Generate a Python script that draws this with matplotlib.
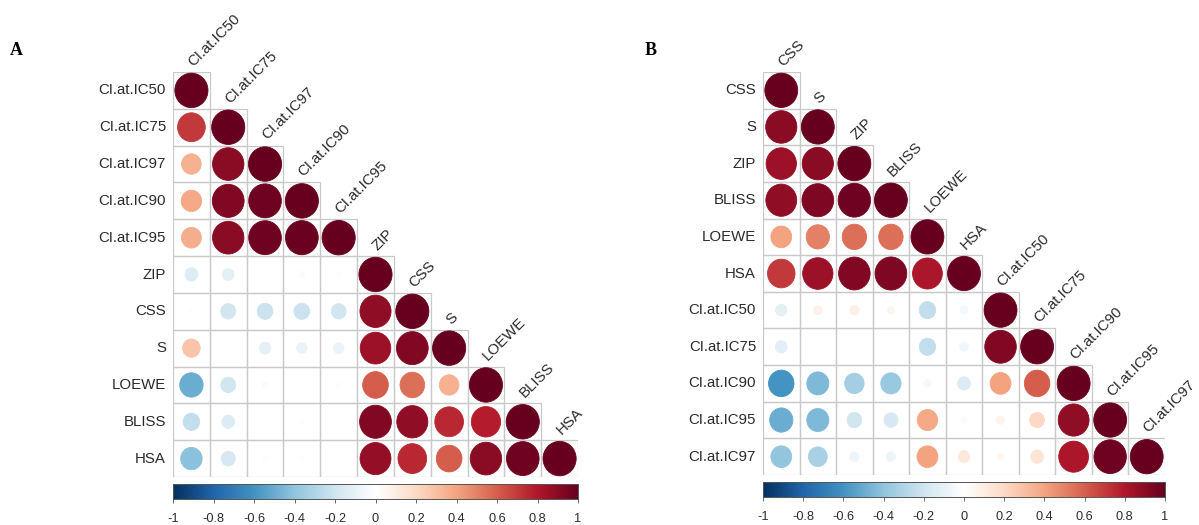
import numpy as np
import matplotlib
matplotlib.use("Agg")
import matplotlib.pyplot as plt
from matplotlib.colors import LinearSegmentedColormap, Normalize
from matplotlib.patches import Ellipse, Rectangle

# ---- data: lower-triangle correlation coefficients ----
labels_a = ["CI.at.IC50", "CI.at.IC75", "CI.at.IC97", "CI.at.IC90", "CI.at.IC95",
            "ZIP", "CSS", "S", "LOEWE", "BLISS", "HSA"]
corr_a = [
    [1.00],
    [0.70, 1.00],
    [0.35, 0.90, 1.00],
    [0.38, 0.92, 0.97, 1.00],
    [0.36, 0.90, 0.97, 0.98, 1.00],
    [-0.15, -0.12, 0.00, -0.03, -0.02, 1.00],
    [-0.02, -0.20, -0.22, -0.22, -0.20, 0.88, 1.00],
    [0.28, 0.00, -0.12, -0.10, -0.10, 0.85, 0.92, 1.00],
    [-0.50, -0.20, -0.03, 0.00, -0.02, 0.60, 0.55, 0.35, 1.00],
    [-0.25, -0.15, 0.00, -0.02, 0.00, 0.92, 0.88, 0.75, 0.78, 1.00],
    [-0.42, -0.18, -0.02, -0.02, 0.00, 0.87, 0.75, 0.60, 0.90, 0.97, 1.00],
]

labels_b = ["CSS", "S", "ZIP", "BLISS", "LOEWE", "HSA",
            "CI.at.IC50", "CI.at.IC75", "CI.at.IC90", "CI.at.IC95", "CI.at.IC97"]
corr_b = [
    [1.00],
    [0.90, 1.00],
    [0.85, 0.90, 1.00],
    [0.88, 0.93, 0.97, 1.00],
    [0.40, 0.50, 0.55, 0.55, 1.00],
    [0.70, 0.85, 0.92, 0.93, 0.82, 1.00],
    [-0.12, 0.07, 0.08, 0.05, -0.25, -0.06, 1.00],
    [-0.13, 0.00, 0.00, 0.00, -0.25, -0.07, 0.92, 1.00],
    [-0.60, -0.45, -0.35, -0.38, 0.05, -0.15, 0.40, 0.60, 1.00],
    [-0.50, -0.45, -0.20, -0.18, 0.38, 0.02, 0.06, 0.20, 0.88, 1.00],
    [-0.40, -0.33, -0.08, -0.08, 0.40, 0.12, 0.04, 0.15, 0.82, 0.97, 1.00],
]

colorbar_ticks = [-1, -0.8, -0.6, -0.4, -0.2, 0, 0.2, 0.4, 0.6, 0.8, 1]
colorbar_ticklabels = ["-1", "-0.8", "-0.6", "-0.4", "-0.2", "0", "0.2", "0.4", "0.6", "0.8", "1"]

# ---- styling ----
plt.rcParams["font.family"] = ["Liberation Sans", "DejaVu Sans"]
label_font = dict(fontsize=10.8)
tick_font = dict(fontsize=9.2)

rdbu = ["#053061", "#2166AC", "#4393C3", "#92C5DE", "#D1E5F0", "#FFFFFF",
        "#FDDBC7", "#F4A582", "#D6604D", "#B2182B", "#67001F"]
cmap = LinearSegmentedColormap.from_list("corr_rdbu", rdbu, N=200)
norm = Normalize(-1, 1)
grid_col = "#C9C9C9"
text_col = "#2b2b2b"

W, H = 1199, 525
fig = plt.figure(figsize=(W / 100, H / 100), dpi=100)


def px_axes(x0, y0, x1, y1):
    """Axes from pixel box (top-left origin)."""
    return fig.add_axes([x0 / W, 1 - y1 / H, (x1 - x0) / W, (y1 - y0) / H])


def corr_panel(box, cbar_box, labels, corr, letter, letter_xy):
    ax = px_axes(*box)
    n = len(labels)
    ax.set_xlim(0.5, n + 0.5)
    ax.set_ylim(n + 0.5, 0.5)
    ax.axis("off")
    for i, row in enumerate(corr, start=1):
        for j, r in enumerate(row, start=1):
            ax.add_patch(Rectangle((j - 0.5, i - 0.5), 1, 1, fill=False,
                                   edgecolor=grid_col, lw=0.9, zorder=1))
            d = 0.9 * np.sqrt(abs(r))
            c = cmap(norm(r))
            ax.add_patch(Ellipse((j, i), d, d * 1.04, facecolor=c, edgecolor=c,
                                 lw=0.6, zorder=2))
    for i, lab in enumerate(labels, start=1):
        ax.text(0.5 - 0.19, i, lab, ha="right", va="center",
                color=text_col, clip_on=False, **label_font)
        ax.text(i + 0.05, i - 0.64, lab, ha="left", va="baseline", rotation=45,
                rotation_mode="anchor", color=text_col, clip_on=False, **label_font)

    cax = px_axes(*cbar_box)
    grad = np.linspace(-1, 1, 400).reshape(1, -1)
    cax.imshow(grad, cmap=cmap, norm=norm, aspect="auto",
               extent=(-1, 1, 0, 1))
    cax.set_xlim(-1, 1)
    cax.set_yticks([])
    cax.set_xticks(colorbar_ticks)
    cax.set_xticklabels(colorbar_ticklabels, color=text_col, **tick_font)
    cax.tick_params(axis="x", length=3, width=0.6, color="#555555", pad=7)
    for s in cax.spines.values():
        s.set_edgecolor("#555555")
        s.set_linewidth(0.7)

    fig.text(letter_xy[0] / W, 1 - letter_xy[1] / H, letter,
             family=["Liberation Serif", "DejaVu Serif"], fontweight="bold",
             fontsize=13, ha="left", va="baseline")


corr_panel((173, 72, 578, 477), (173, 484, 578, 499), labels_a, corr_a, "A", (10, 55))
corr_panel((763, 72, 1165, 475), (763, 482, 1165, 497), labels_b, corr_b, "B", (645, 55))

fig.savefig("out.png", dpi=100, facecolor="white")
